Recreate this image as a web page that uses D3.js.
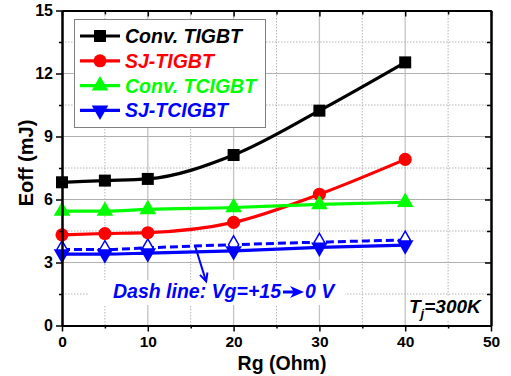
<!DOCTYPE html>
<html><head><meta charset="utf-8">
<script src="https://cdn.jsdelivr.net/npm/d3@7"></script>
<style>
body{margin:0;background:#fff}
svg{display:block}
text{font-family:"Liberation Sans",Arial,sans-serif;font-weight:bold}
</style></head>
<body><svg width="511" height="376"></svg>
<script>
// ---- data ----
const rg = [0, 5, 10, 20, 30, 40];
const convTIGBT = [6.82, 6.9, 6.98, 8.12, 10.23, 12.53];
const sjTIGBT = [4.32, 4.38, 4.42, 4.91, 6.25, 7.91];
const convTCIGBT = [5.45, 5.45, 5.53, 5.62, 5.77, 5.87];
const sjTCIGBT = [3.4, 3.4, 3.45, 3.55, 3.72, 3.83];
const sjTCIGBTdash = [3.62, 3.62, 3.7, 3.85, 3.97, 4.07];
const xTicks = [0, 10, 20, 30, 40, 50];
const xMinor = [5, 15, 25, 35, 45];
const yTicks = [0, 3, 6, 9, 12, 15];
const yMinor = [1.5, 4.5, 7.5, 10.5, 13.5];
const seriesNames = ["Conv. TIGBT", "SJ-TIGBT", "Conv. TCIGBT", "SJ-TCIGBT"];
const seriesColors = ["#000000", "#ff0000", "#00ff00", "#0000ff"];
const xTitle = "Rg (Ohm)";
const yTitle = "Eoff (mJ)";
const noteText = ["Dash line: Vg=+15", "0 V"];
const arrowFrom = [15.5, 3.8], arrowTo = [16.8, 2.1];

const svg = d3.select("svg");
const x = d3.scaleLinear().domain([0, 50]).range([62, 491]);
const y = d3.scaleLinear().domain([0, 15]).range([325.5, 10.5]);

// ---- grid ----
const grid = svg.append("g");
grid.selectAll(".vmaj").data(xTicks.slice(1, -1)).join("line")
  .attr("x1", d => x(d)).attr("x2", d => x(d)).attr("y1", y(0)).attr("y2", y(15))
  .attr("stroke", "#c4c4c4").attr("stroke-width", 1.3);
grid.selectAll(".hmaj").data(yTicks.slice(1, -1)).join("line")
  .attr("y1", d => y(d)).attr("y2", d => y(d)).attr("x1", x(0)).attr("x2", x(50))
  .attr("stroke", "#b0b0b0").attr("stroke-width", 1);
grid.selectAll(".vmin").data(xMinor).join("line")
  .attr("x1", d => x(d)).attr("x2", d => x(d)).attr("y1", y(0)).attr("y2", y(15))
  .attr("stroke", "#b4b4b4").attr("stroke-width", 1).attr("stroke-dasharray", "1.5,1.5");
grid.selectAll(".hmin").data(yMinor).join("line")
  .attr("y1", d => y(d)).attr("y2", d => y(d)).attr("x1", x(0)).attr("x2", x(50))
  .attr("stroke", "#b4b4b4").attr("stroke-width", 1).attr("stroke-dasharray", "1.5,1.5");

// white boxes behind annotations
svg.append("rect").attr("x", 88).attr("y", 280).attr("width", 257).attr("height", 25).attr("fill", "#fff");
svg.append("rect").attr("x", 408).attr("y", 296).attr("width", 81).attr("height", 24).attr("fill", "#fff");

// ---- series ----
const allSeries = [convTIGBT, sjTIGBT, convTCIGBT, sjTCIGBT];
const symbols = [d3.symbolSquare, d3.symbolCircle, d3.symbolTriangle, d3.symbolTriangle];
const symSizes = [144, 135, 120, 120];
const rot = [0, 0, 0, 180];
const line = d3.line().x(d => x(d[0])).y(d => y(d[1])).curve(d3.curveMonotoneX);

// dashed series
svg.append("path").datum(rg.map((r, i) => [r, sjTCIGBTdash[i]]))
  .attr("d", line).attr("fill", "none").attr("stroke", "#0000ff")
  .attr("stroke-width", 3).attr("stroke-dasharray", "8,4");
svg.selectAll(".dia").data(rg.map((r, i) => [r, sjTCIGBTdash[i]])).join("path")
  .attr("transform", d => `translate(${x(d[0])},${y(d[1])})`)
  .attr("d", d3.symbol(d3.symbolDiamond, 90)())
  .attr("fill", "#fff").attr("stroke", "#0000ff").attr("stroke-width", 1.5);

allSeries.forEach((vals, k) => {
  const pts = rg.map((r, i) => [r, vals[i]]);
  svg.append("path").datum(pts).attr("d", line).attr("fill", "none")
    .attr("stroke", seriesColors[k]).attr("stroke-width", 3.2);
  svg.selectAll(".m" + k).data(pts).join("path")
    .attr("transform", d => `translate(${x(d[0])},${y(d[1])}) rotate(${rot[k]})`)
    .attr("d", d3.symbol(symbols[k], symSizes[k])())
    .attr("fill", seriesColors[k]);
});

// ---- axes ----
function styleAxis(g) {
  g.select(".domain").attr("stroke", "#000").attr("stroke-width", 2);
  g.selectAll(".tick line").attr("stroke", "#000").attr("stroke-width", 1.5);
  g.selectAll(".tick text").attr("font-size", 16).attr("font-weight", "bold")
    .attr("font-family", '"Liberation Sans",Arial,sans-serif').attr("fill", "#000");
}
const gB = svg.append("g").attr("transform", `translate(0,${y(0)})`)
  .call(d3.axisBottom(x).tickValues(xTicks).tickSize(6).tickSizeOuter(0).tickPadding(4).tickFormat(d3.format("d")));
styleAxis(gB);
gB.selectAll(".tick text").attr("font-size", 15.5);
const gBm = svg.append("g").attr("transform", `translate(0,${y(0)})`)
  .call(d3.axisBottom(x).tickValues(xMinor).tickSize(3).tickSizeOuter(0).tickFormat(""));
styleAxis(gBm);
const gL = svg.append("g").attr("transform", `translate(${x(0)},0)`)
  .call(d3.axisLeft(y).tickValues(yTicks).tickSize(6).tickSizeOuter(0).tickPadding(3).tickFormat(d3.format("d")));
styleAxis(gL);
const gLm = svg.append("g").attr("transform", `translate(${x(0)},0)`)
  .call(d3.axisLeft(y).tickValues(yMinor).tickSize(3).tickSizeOuter(0).tickFormat(""));
styleAxis(gLm);
const gT = svg.append("g").attr("transform", `translate(0,${y(15)})`)
  .call(d3.axisTop(x).tickValues(xTicks).tickSize(-6).tickSizeOuter(0).tickFormat(""));
styleAxis(gT);
const gTm = svg.append("g").attr("transform", `translate(0,${y(15)})`)
  .call(d3.axisTop(x).tickValues(xMinor).tickSize(-4).tickSizeOuter(0).tickFormat(""));
styleAxis(gTm);
const gR = svg.append("g").attr("transform", `translate(${x(50)},0)`)
  .call(d3.axisRight(y).tickValues(yTicks).tickSize(-6).tickSizeOuter(0).tickFormat(""));
styleAxis(gR);
const gRm = svg.append("g").attr("transform", `translate(${x(50)},0)`)
  .call(d3.axisRight(y).tickValues(yMinor).tickSize(-4).tickSizeOuter(0).tickFormat(""));
styleAxis(gRm);

// axis titles
svg.append("text").attr("x", 282).attr("y", 370).attr("text-anchor", "middle")
  .attr("font-size", 19.5).text(xTitle);
svg.append("text").attr("transform", "translate(33,163) rotate(-90)").attr("text-anchor", "middle")
  .attr("font-size", 20).text(yTitle);

// ---- legend ----
const lg = svg.append("g");
lg.append("rect").attr("x", 74.5).attr("y", 19.5).attr("width", 191).attr("height", 108)
  .attr("fill", "#fff").attr("stroke", "#808080").attr("stroke-width", 1);
seriesNames.forEach((name, k) => {
  const cy = 36 + k * 24.8;
  lg.append("line").attr("x1", 80).attr("x2", 120).attr("y1", cy).attr("y2", cy)
    .attr("stroke", seriesColors[k]).attr("stroke-width", 3.2);
  lg.append("path").attr("transform", `translate(100,${cy}) rotate(${rot[k]})`)
    .attr("d", d3.symbol(symbols[k], symSizes[k])()).attr("fill", seriesColors[k]);
  lg.append("text").attr("x", 125).attr("y", cy + 7).attr("font-size", 19.5)
    .attr("font-style", "italic").attr("fill", seriesColors[k]).text(name);
});

// ---- annotation ----
const ax1 = x(arrowFrom[0]), ay1 = y(arrowFrom[1]), ax2 = x(arrowTo[0]), ay2 = y(arrowTo[1]);
svg.append("line").attr("x1", ax1).attr("y1", ay1).attr("x2", ax2).attr("y2", ay2)
  .attr("stroke", "#0000ff").attr("stroke-width", 2);
const ang = Math.atan2(ay2 - ay1, ax2 - ax1);
const hl = 9, hw = 0.45;
svg.append("path").attr("d",
  `M${ax2 - hl * Math.cos(ang - hw)},${ay2 - hl * Math.sin(ang - hw)} L${ax2},${ay2} L${ax2 - hl * Math.cos(ang + hw)},${ay2 - hl * Math.sin(ang + hw)}`)
  .attr("fill", "none").attr("stroke", "#0000ff").attr("stroke-width", 2);

const noteBase = 298, noteX = 113;
const t1 = svg.append("text").attr("x", noteX).attr("y", noteBase).attr("font-size", 19.5)
  .attr("font-style", "italic").attr("fill", "#0000ff").text(noteText[0]);
const w1 = t1.node().getComputedTextLength();
const arX = noteX + w1 + 2, arY = noteBase - 6;
svg.append("path").attr("d",
  `M${arX},${arY - 1.6} L${arX + 10},${arY - 1.6} L${arX + 7},${arY - 6} L${arX + 21},${arY} L${arX + 7},${arY + 6} L${arX + 10},${arY + 1.6} L${arX},${arY + 1.6} Z`)
  .attr("fill", "#0000ff");
svg.append("text").attr("x", arX + 22).attr("y", noteBase).attr("font-size", 19.5)
  .attr("font-style", "italic").attr("fill", "#0000ff").text(noteText[1]);

const tj = svg.append("text").attr("x", 409).attr("y", 313).attr("font-size", 19)
  .attr("font-style", "italic").attr("fill", "#000");
tj.append("tspan").text("T");
tj.append("tspan").attr("font-size", 13).attr("dy", 5).text("j");
tj.append("tspan").attr("dy", -5).text("=300K");
</script>
</body></html>
